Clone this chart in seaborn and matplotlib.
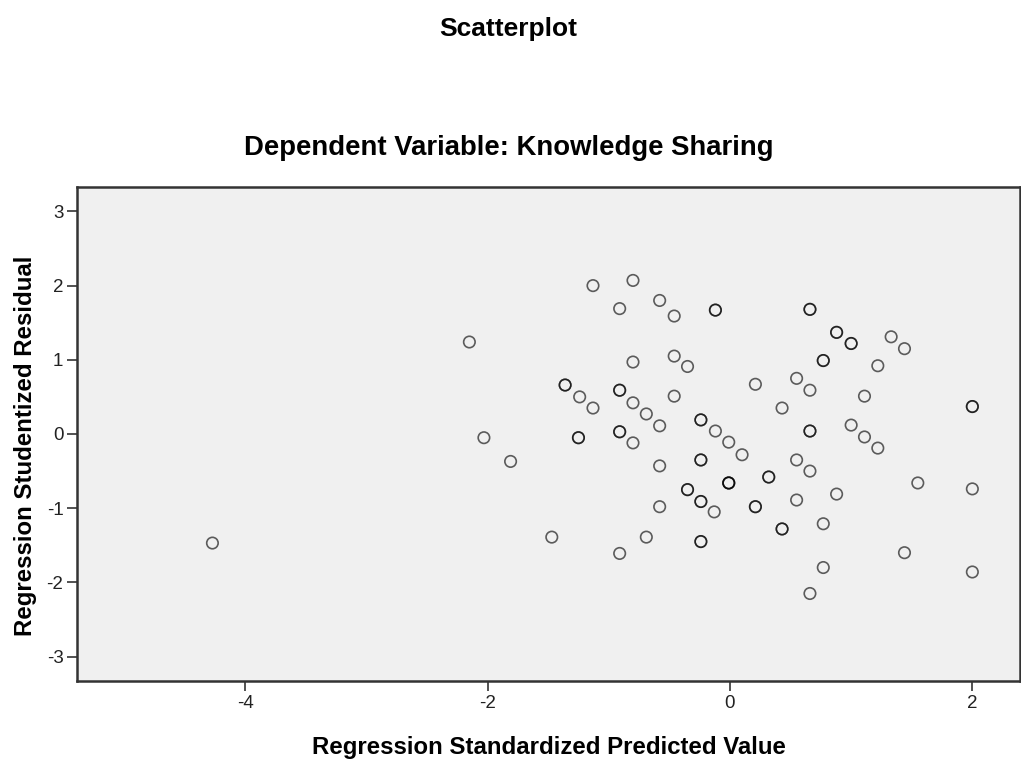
#Importing packages
import pandas as pd
import matplotlib
matplotlib.use('Agg')
import matplotlib.pyplot as plt
import seaborn as sns

#Regression standardized predicted values (repeated values = overlapping cases)
pred = [-1.13, -0.80, -0.91, -0.58, -0.46, -0.12, -0.12,
        -0.80, -0.46, -0.35, -1.36, -1.36, -1.24, -1.13, -0.91, -0.91,
        -0.80, -0.69, -0.58, -0.46, -0.24, -0.24, -0.12, -0.01,
        -1.25, -1.25, -0.91, -0.91, -0.80,
        0.66, 0.66, 0.88, 0.88, 1.00, 1.00, 1.33, 1.44, 0.77, 0.77, 1.22,
        0.21, 0.55, 0.66, 1.11, 0.43, 2.00, 2.00, 0.66, 0.66, 1.00, 1.11, 1.22,
        0.10, -0.58, -0.24, -0.24, -0.01, -0.01, -0.01, -0.35, -0.35,
        -0.24, -0.24, -0.13, -0.58, -1.47, -0.69, -0.91, -0.24, -0.24,
        0.55, 0.66, 0.32, 0.32, 0.55, 0.88, 0.21, 0.21, 0.43, 0.43, 0.77,
        1.55, 2.00, 1.44, 2.00, 0.77, 0.66,
        -2.15, -2.03, -1.81, -4.27]
#Regression studentized residuals
resid = [2.00, 2.07, 1.69, 1.80, 1.59, 1.67, 1.67,
         0.97, 1.05, 0.91, 0.66, 0.66, 0.50, 0.35, 0.59, 0.59,
         0.42, 0.27, 0.11, 0.51, 0.19, 0.19, 0.04, -0.11,
         -0.05, -0.05, 0.03, 0.03, -0.12,
         1.68, 1.68, 1.37, 1.37, 1.22, 1.22, 1.31, 1.15, 0.99, 0.99, 0.92,
         0.67, 0.75, 0.59, 0.51, 0.35, 0.37, 0.37, 0.04, 0.04, 0.12, -0.04, -0.19,
         -0.28, -0.43, -0.35, -0.35, -0.66, -0.66, -0.66, -0.75, -0.75,
         -0.91, -0.91, -1.05, -0.98, -1.39, -1.39, -1.61, -1.45, -1.45,
         -0.35, -0.50, -0.58, -0.58, -0.89, -0.81, -0.98, -0.98, -1.28, -1.28, -1.21,
         -0.66, -0.74, -1.60, -1.86, -1.80, -2.15,
         1.24, -0.05, -0.37, -1.47]
#Tick values
x_ticks = [-4, -2, 0, 2]
y_ticks = [-3, -2, -1, 0, 1, 2, 3]

df = pd.DataFrame({'pred': pred, 'resid': resid})

#style and fonts
sns.set_style('white')
plt.rcParams['font.family'] = ['Liberation Sans', 'DejaVu Sans']
plt.rcParams['axes.unicode_minus'] = False

fig = plt.figure(figsize=(10.21, 7.6), dpi=100)
ax = fig.add_axes([0.0757, 0.1039, 0.9233, 0.6507])
ax.set_facecolor('#f0f0f0')

#open circles, overlapping cases show darker
sns.scatterplot(data=df, x='pred', y='resid', ax=ax, s=68,
                facecolor='none', edgecolor=(0, 0, 0, 0.62), linewidth=1.2,
                zorder=3)

ax.set_xlim(-5.385, 2.393)
ax.set_ylim(-3.33, 3.336)
ax.set_xticks(x_ticks)
ax.set_yticks(y_ticks)
ax.tick_params(axis='both', direction='out', length=7, width=1.2, color='#333333',
               labelsize=13.5, labelcolor='#222222', pad=3,
               bottom=True, left=True)
for side in ['left', 'bottom', 'top', 'right']:
    ax.spines[side].set_color('#333333')
    ax.spines[side].set_linewidth(1.8)

#axis labels
ax.set_xlabel('Regression Standardized Predicted Value', fontsize=17.3,
              fontweight='bold', labelpad=17, color='black')
ax.set_ylabel('Regression Studentized Residual', fontsize=17.3,
              fontweight='bold', labelpad=7, color='black')
ax.yaxis.label.set_y(0.476)

#titles
fig.text(0.498, 0.953, 'Scatterplot', ha='center', va='baseline',
         fontsize=19, fontweight='bold', color='black')
fig.text(0.498, 0.796, 'Dependent Variable: Knowledge Sharing', ha='center',
         va='baseline', fontsize=19.8, fontweight='bold', color='black')

plt.savefig('out.png', dpi=100)
